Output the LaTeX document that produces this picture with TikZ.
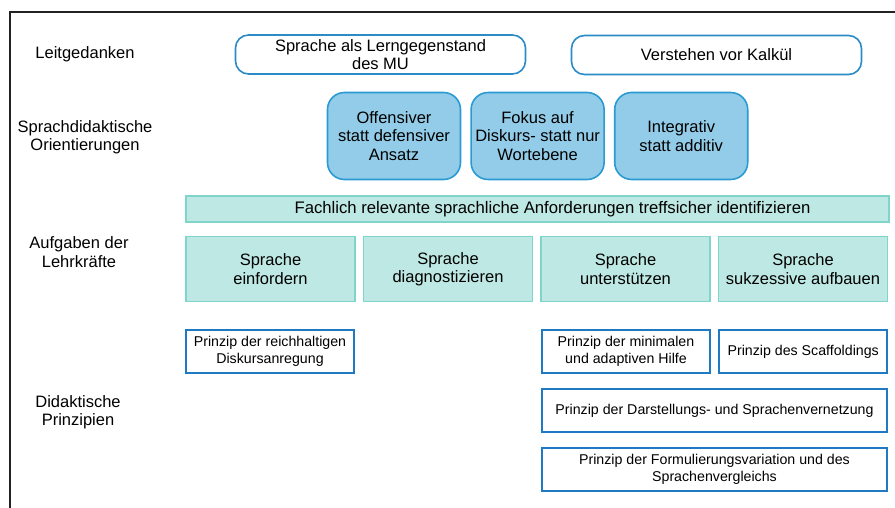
\documentclass[tikz,border=0pt]{standalone}
\usepackage{fontspec}
\setmainfont{Liberation Sans}
\usetikzlibrary{positioning}

\definecolor{leitline}{HTML}{2A8BC7}
\definecolor{orientfill}{HTML}{93CCE8}
\definecolor{orientline}{HTML}{2A9AD2}
\definecolor{taskfill}{HTML}{BEE8E3}
\definecolor{taskline}{HTML}{80D4CA}
\definecolor{prinline}{HTML}{1F7AC3}
\definecolor{frameline}{HTML}{222222}

\begin{document}
\begin{tikzpicture}[x=1pt,y=-1pt,node distance=9pt,
  rowlabel/.style={align=center,font=\fontsize{16.5}{18.5}\selectfont},
  leit/.style={draw=leitline,line width=1.6pt,rounded corners=13pt,minimum width=290pt,
    minimum height=39pt,align=center,font=\fontsize{16.5}{18}\selectfont},
  orient/.style={draw=orientline,fill=orientfill,line width=1.6pt,rounded corners=17pt,
    minimum width=133pt,minimum height=87pt,align=center,font=\fontsize{16.5}{18.5}\selectfont},
  task/.style={draw=taskline,fill=taskfill,line width=1.5pt,minimum width=169pt,
    minimum height=65pt,align=center,font=\fontsize{16.5}{18.5}\selectfont},
  prin/.style={draw=prinline,line width=2.2pt,minimum width=168pt,minimum height=43pt,
    align=center,font=\fontsize{14.2}{17}\selectfont}]
  \useasboundingbox (0,0) rectangle (895,508);
  % frame
  \draw[frameline,line width=1.2pt] (895,12) -- (10,12) -- (10,508);

  % row labels
  \node[rowlabel] (lLeit)   at (85,54)  {Leitgedanken};
  \node[rowlabel] (lOrient) at (85,137) {Sprachdidaktische\\Orientierungen};
  \node[rowlabel] (lTask)   at (79,252) {Aufgaben der\\Lehrkräfte};
  \node[rowlabel] (lPrin)   at (78,412) {Didaktische\\Prinzipien};

  % Leitgedanken
  \node[leit] (g1) at (380.5,54.5) {Sprache als Lerngegenstand\\des MU};
  \node[leit] (g2) at (716.5,55)   {Verstehen vor Kalkül};

  % Orientierungen
  \node[orient] (o1) at (394,136) {Offensiver\\statt defensiver\\Ansatz};
  \node[orient, right=of o1] (o2) {Fokus auf\\Diskurs- statt nur\\Wortebene};
  \node[orient, right=of o2] (o3) {Integrativ\\statt additiv};

  % Aufgaben
  \node[task, minimum width=703pt, minimum height=26pt, font=\fontsize{16.7}{18}\selectfont]
    (t0) at (537.5,209)
    {\hspace*{30pt}Fachlich relevante sprachliche Anforderungen treffsicher identifizieren};
  \node[task] (t1) at (270.5,269) {Sprache\\einfordern};
  \node[task, right=7pt of t1] (t2) {Sprache\\diagnostizieren};
  \node[task, right=7pt of t2] (t3) {Sprache\\unterstützen};
  \node[task, right=7pt of t3] (t4) {Sprache\\sukzessive aufbauen};

  % Prinzipien
  \node[prin] (p1) at (270,351.5) {Prinzip der reichhaltigen\\Diskursanregung};
  \node[prin] (p2) at (626,351.5) {Prinzip der minimalen\\und adaptiven Hilfe};
  \node[prin, right=7pt of p2] (p3) {Prinzip des Scaffoldings};
  \node[prin, minimum width=345pt] (p4) at (714.5,410.5)
    {Prinzip der Darstellungs- und Sprachenvernetzung};
  \node[prin, minimum width=345pt, below=14pt of p4] (p5)
    {Prinzip der Formulierungsvariation und des\\Sprachenvergleichs};
\end{tikzpicture}
\end{document}
